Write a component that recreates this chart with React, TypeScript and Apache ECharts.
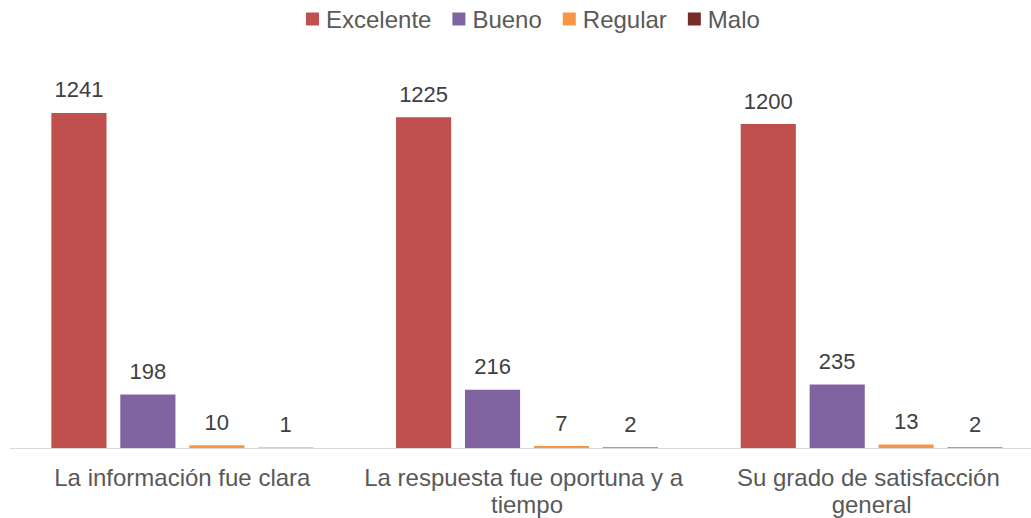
import React, { useEffect, useRef } from "react";
import * as echarts from "echarts";

const categories = [
  "La información fue clara",
  "La respuesta fue oportuna y a tiempo",
  "Su grado de satisfacción general",
];
const seriesNames = ["Excelente", "Bueno", "Regular", "Malo"];
const excelente = [1241, 1225, 1200];
const bueno = [198, 216, 235];
const regular = [10, 7, 13];
const malo = [1, 2, 2];
const colors = ["#C0504D", "#8064A2", "#F79646", "#772C2A"];

export default function App() {
  const ref = useRef<HTMLDivElement>(null);
  useEffect(() => {
    if (!ref.current) return;
    const chart = echarts.init(ref.current, undefined, { renderer: "svg" });
    const values = [excelente, bueno, regular, malo];
    chart.setOption({
      animation: false,
      textStyle: { fontFamily: "Liberation Sans, Arial, sans-serif" },
      legend: {
        top: 2,
        left: 301,
        itemWidth: 13,
        itemHeight: 13,
        itemGap: 21,
        icon: "rect",
        textStyle: { fontSize: 24, color: "#595959", padding: [0, 0, 0, 2] },
        data: seriesNames,
      },
      grid: { left: 10, top: 70, width: 1034, bottom: 70, containLabel: false },
      xAxis: {
        type: "category",
        data: categories,
        axisLine: { lineStyle: { color: "#D9D9D9", width: 1 } },
        axisTick: { show: false },
        axisLabel: {
          fontSize: 24,
          color: "#595959",
          margin: 16,
          width: 330,
          overflow: "break",
          lineHeight: 27,
          interval: 0,
        },
      },
      yAxis: {
        type: "value",
        min: 0,
        max: 1400,
        show: false,
        splitLine: { show: false },
      },
      series: seriesNames.map((name, i) => ({
        name,
        type: "bar",
        data: values[i],
        barGap: "25%",
        barCategoryGap: "24%",
        itemStyle: { color: colors[i] },
        label: {
          show: true,
          position: "top",
          distance: 12,
          fontSize: 22,
          color: "#404040",
        },
      })),
    });
    return () => chart.dispose();
  }, []);
  return (
    <div
      style={{ position: "absolute", left: 0, top: 0, width: 1031, height: 518, overflow: "hidden", background: "#fff" }}
    >
      <div ref={ref} style={{ width: 1050, height: 518 }} />
    </div>
  );
}
